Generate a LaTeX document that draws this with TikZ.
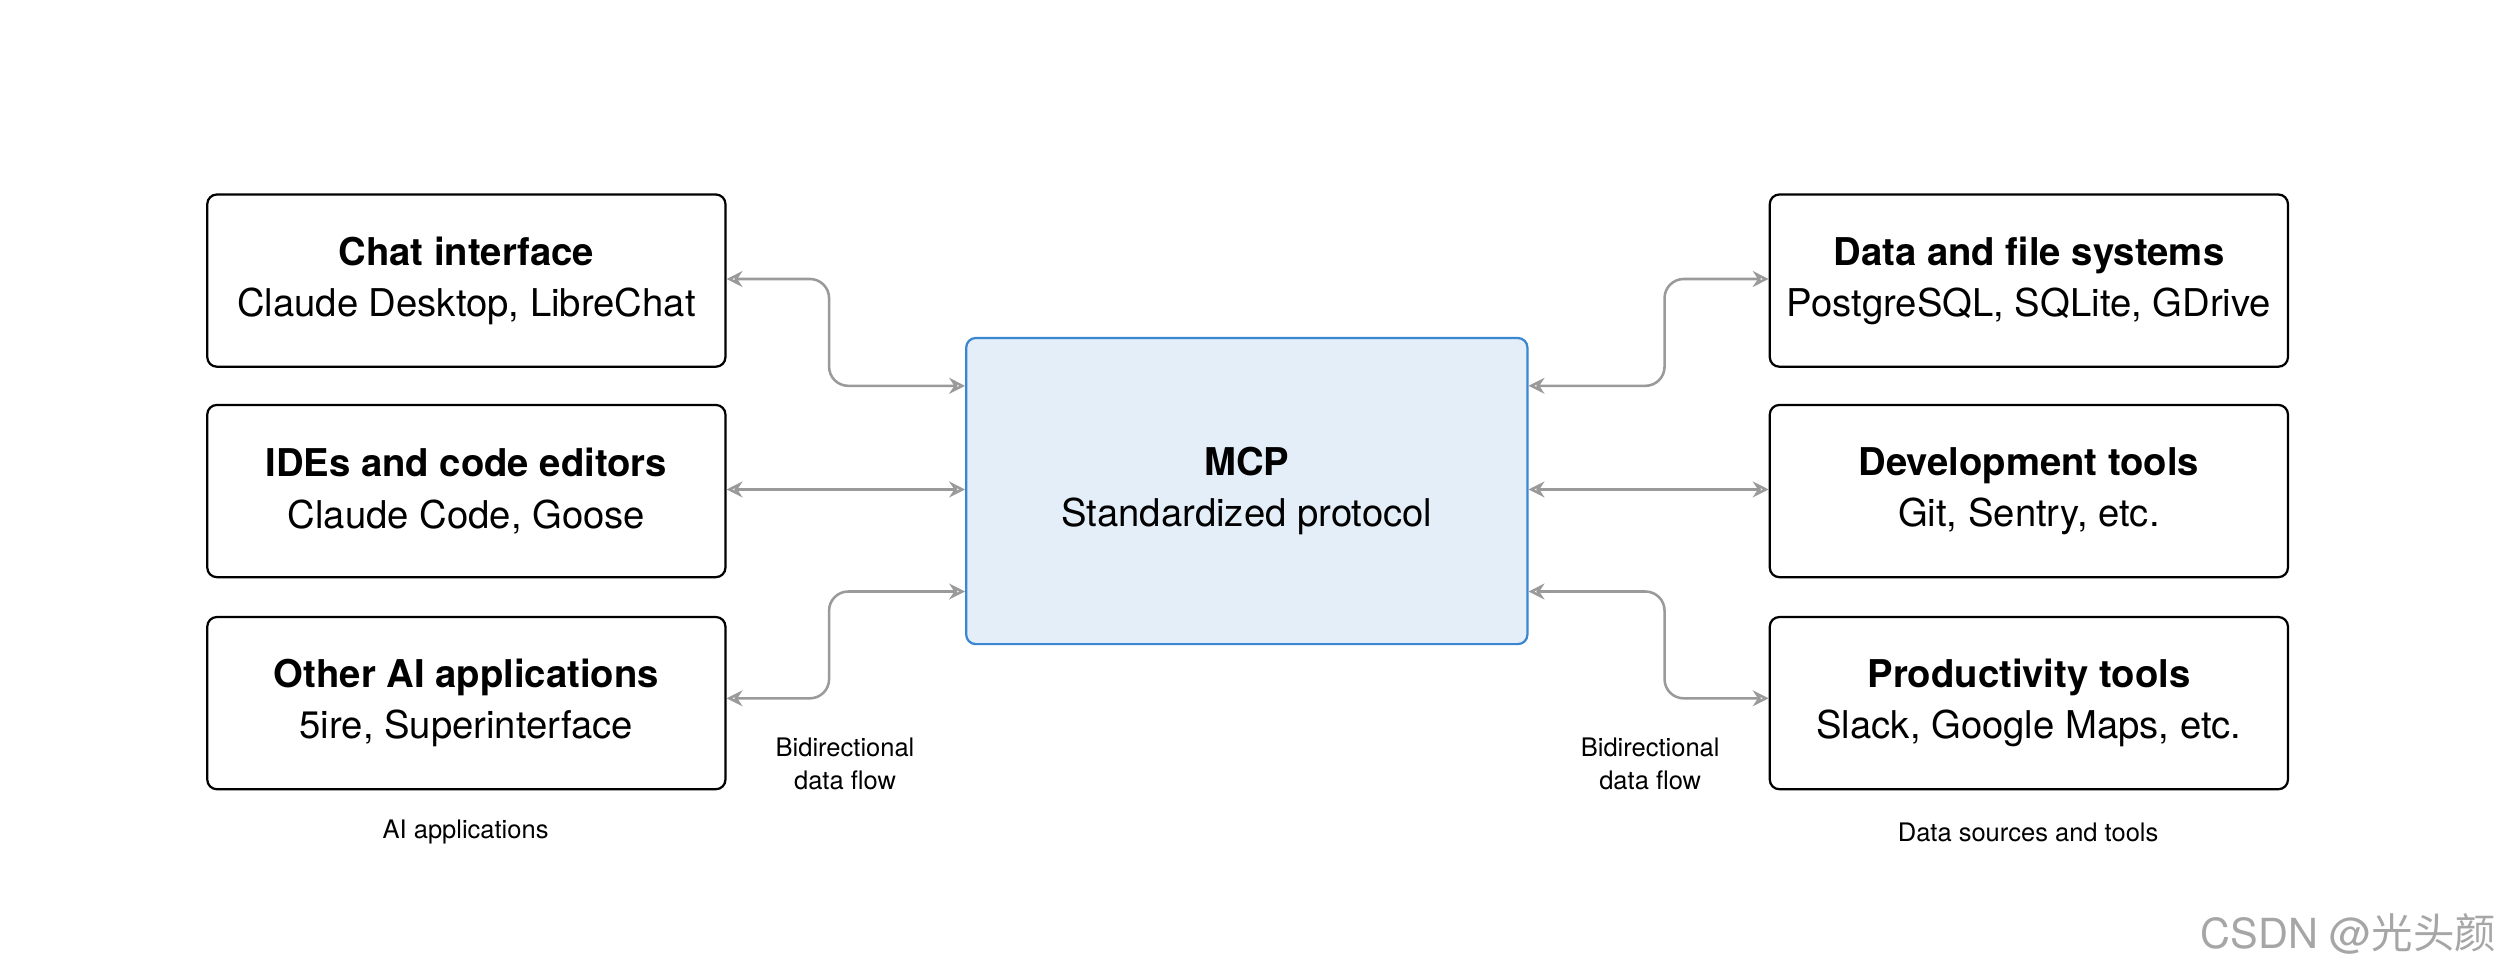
\documentclass[tikz,border=0pt]{standalone}
\usepackage{fontspec}
\setmainfont{TeX Gyre Heros}
\newfontfamily\cjk{Noto Sans CJK SC}
\usetikzlibrary{arrows.meta}
\definecolor{cfill}{HTML}{E3EEF9}
\definecolor{cbord}{HTML}{3A86D0}
\definecolor{arr}{HTML}{9A9A9A}
\begin{document}
\begin{tikzpicture}[x=0.5pt,y=-0.5pt,
  box/.style={draw=black,line width=0.7pt,rounded corners=3pt,minimum width=162.5pt,minimum height=54pt,align=center,inner sep=0pt,font=\fontsize{12}{16}\selectfont},
  mcp/.style={box,draw=cbord,fill=cfill,minimum width=176pt,minimum height=96pt},
  conn/.style={draw=arr,line width=0.8pt,rounded corners=6pt,{Stealth[length=5pt,width=5pt,open]}-{Stealth[length=5pt,width=5pt,open]}},
  small/.style={font=\fontsize{8}{10.5}\selectfont,align=center,inner sep=0pt}]
\useasboundingbox (0,0) rectangle (1568,613);
\node[box] (chat) at (292.5,176) {\textbf{Chat interface}\\Claude Desktop, LibreChat};
\node[box] (ide) at (292.5,308) {\textbf{IDEs and code editors}\\Claude Code, Goose};
\node[box] (oth) at (292.5,441) {\textbf{Other AI applications}\\5ire, Superinterface};
\node[mcp] (m) at (782,308) {\textbf{MCP}\\Standardized protocol};
\node[box] (data) at (1272.5,176) {\textbf{Data and file systems}\\PostgreSQL, SQLite, GDrive};
\node[box] (dev) at (1272.5,308) {\textbf{Development tools}\\Git, Sentry, etc.};
\node[box] (prod) at (1272.5,441) {\textbf{Productivity tools}\\Slack, Google Maps, etc.};
\draw[conn] (chat.east |- 0,175) -- (520,175) -- (520,242) -- (m.west |- 0,242);
\draw[conn] (ide.east |- 0,307) -- (m.west |- 0,307);
\draw[conn] (oth.east |- 0,438) -- (520,438) -- (520,371) -- (m.west |- 0,371);
\draw[conn] (m.east |- 0,242) -- (1044,242) -- (1044,175) -- (data.west |- 0,175);
\draw[conn] (m.east |- 0,307) -- (dev.west |- 0,307);
\draw[conn] (m.east |- 0,371) -- (1044,371) -- (1044,438) -- (prod.west |- 0,438);
\node[small] (l1) at (530,479) {Bidirectional\\data flow};
\node[small] (l2) at (1035,479) {Bidirectional\\data flow};
\node[small] (g1) at (292,522) {AI applications};
\node[small] (g2) at (1272,522) {Data sources and tools};
\node[inner sep=0pt,text=black!35,font=\fontsize{13}{15}\selectfont,anchor=east] (wm) at (1566,586) {CSDN @{\cjk 光头颜}};
\end{tikzpicture}
\end{document}
